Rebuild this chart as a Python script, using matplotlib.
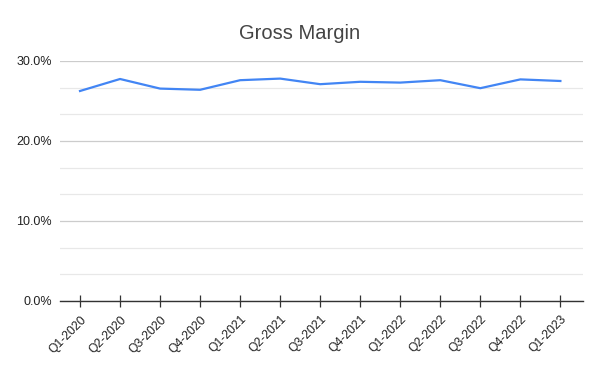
import numpy as np
import matplotlib.pyplot as plt
from matplotlib.ticker import MultipleLocator, PercentFormatter

# Dados
quarters = ["Q1-2020", "Q2-2020", "Q3-2020", "Q4-2020", "Q1-2021", "Q2-2021", "Q3-2021",
            "Q4-2021", "Q1-2022", "Q2-2022", "Q3-2022", "Q4-2022", "Q1-2023"]
gross_margin = [26.25, 27.75, 26.55, 26.4, 27.6, 27.8, 27.1,
                27.4, 27.3, 27.6, 26.6, 27.7, 27.5]

plt.rcParams['font.family'] = ['Liberation Sans', 'DejaVu Sans']

fig = plt.figure(figsize=(6, 3.71), dpi=100)
ax = fig.add_axes([0.1, 0.1887, 0.872, 0.6469])

x = np.arange(len(quarters))
ax.plot(x, gross_margin, color='#4285F4', lw=1.6, solid_joinstyle='round')

ax.set_xlim(-0.5, 12.57)
ax.set_ylim(0, 30)
ax.yaxis.set_major_locator(MultipleLocator(10))
ax.yaxis.set_minor_locator(MultipleLocator(10 / 3))
ax.yaxis.set_major_formatter(PercentFormatter(decimals=1))
ax.grid(True, which='major', axis='y', color='#cccccc', lw=0.9)
ax.grid(True, which='minor', axis='y', color='#e8e8e8', lw=0.9)
ax.set_axisbelow(True)

ax.set_xticks(x)
ax.set_xticklabels(quarters, rotation=45, ha='right', rotation_mode='anchor', fontsize=8.7, color='#222222')
ax.tick_params(axis='x', direction='inout', length=8, width=0.9, color='#333333', pad=5)
ax.tick_params(axis='y', which='both', length=0, labelsize=9, labelcolor='#222222', pad=6)

for side in ['top', 'right', 'left']:
    ax.spines[side].set_visible(False)
ax.spines['bottom'].set_color('#333333')
ax.spines['bottom'].set_linewidth(1.0)

fig.text(0.5, 0.91, "Gross Margin", ha='center', va='center', fontsize=14.5, color='#444444')

fig.savefig("out.png", dpi=100)
